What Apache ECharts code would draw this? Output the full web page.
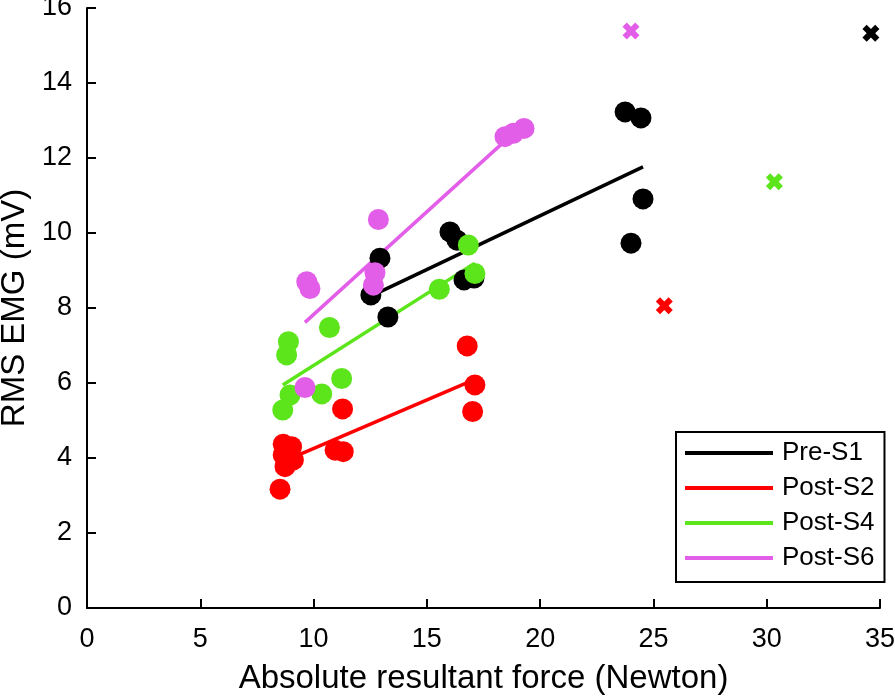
<!DOCTYPE html>
<html>
<head>
<meta charset="utf-8">
<script src="https://cdn.jsdelivr.net/npm/echarts@6/dist/echarts.min.js"></script>
<style>
html,body{margin:0;padding:0;background:#fff;}
#chart{width:895px;height:697px;}
</style>
</head>
<body>
<div id="chart"></div>
<script>
// ---- Data ----
var groupNames = ['Pre-S1', 'Post-S2', 'Post-S4', 'Post-S6'];
var preS1 = [[12.53,8.35],[12.93,9.33],[13.28,7.76],[16.02,10.03],[16.33,9.81],[16.64,8.75],[17.08,8.80],[23.75,13.23],[24.45,13.07],[24.54,10.91],[24.01,9.73]];
var postS2 = [[8.66,4.37],[9.03,4.30],[8.66,4.08],[9.11,3.95],[8.74,3.77],[8.52,3.17],[10.95,4.21],[11.31,4.17],[11.28,5.31],[16.78,6.99],[17.12,5.95],[17.02,5.24]];
var postS4 = [[10.70,7.48],[8.89,7.10],[8.81,6.75],[11.24,6.12],[8.96,5.68],[10.36,5.71],[8.64,5.28],[15.55,8.50],[17.12,8.92],[16.83,9.68]];
var postS6 = [[9.62,5.88],[9.70,8.70],[9.84,8.52],[12.86,10.36],[12.71,8.94],[12.64,8.61],[18.45,12.57],[18.82,12.66],[19.29,12.79]];
var crossPoints = [[34.6,15.33],[25.48,8.06],[30.34,11.37],[24.01,15.39]];
var xTicks = [0,5,10,15,20,25,30,35];
var yTicks = [0,2,4,6,8,10,12,14,16];

var colors = ['#000000', '#ff0000', '#5ce51b', '#e35ee8'];
var groups = [preS1, postS2, postS4, postS6];

function fitLine(pts) {
  var n = pts.length, sx = 0, sy = 0;
  pts.forEach(function(p){ sx += p[0]; sy += p[1]; });
  var mx = sx / n, my = sy / n, sxy = 0, sxx = 0;
  pts.forEach(function(p){ sxy += (p[0]-mx)*(p[1]-my); sxx += (p[0]-mx)*(p[0]-mx); });
  var b = sxy / sxx, a = my - b * mx;
  var xs = pts.map(function(p){ return p[0]; });
  var x0 = Math.min.apply(null, xs), x1 = Math.max.apply(null, xs);
  return [[x0, a + b * x0], [x1, a + b * x1]];
}

var crossPath = 'path://M2.5,0 L5,2.5 L7.5,0 L10,2.5 L7.5,5 L10,7.5 L7.5,10 L5,7.5 L2.5,10 L0,7.5 L2.5,5 L0,2.5 Z';
var FONT = '"Liberation Sans", Arial, Helvetica, sans-serif';

var series = [];
groups.forEach(function(g, i){
  series.push({
    type: 'scatter', name: groupNames[i] + ' pts', data: g,
    symbol: 'circle', symbolSize: 21,
    itemStyle: { color: colors[i], opacity: 1 },
    emphasis: { disabled: true }, silent: true, z: 2
  });
  series.push({
    type: 'line', name: groupNames[i], data: fitLine(g),
    symbol: 'none', lineStyle: { color: colors[i], width: 3.5 },
    itemStyle: { color: colors[i] },
    emphasis: { disabled: true }, silent: true, z: 2
  });
});
crossPoints.forEach(function(p, i){
  series.push({
    type: 'scatter', name: groupNames[i] + ' x', data: [p],
    symbol: crossPath, symbolSize: 17,
    itemStyle: { color: colors[i], opacity: 1 },
    emphasis: { disabled: true }, silent: true, z: 3
  });
});

var chart = echarts.init(document.getElementById('chart'), null, { renderer: 'canvas' });
chart.setOption({
  animation: false,
  backgroundColor: '#ffffff',
  grid: { left: 87, right: 15, top: 8, bottom: 89, containLabel: false, outerBoundsMode: 'none' },
  xAxis: {
    type: 'value', min: xTicks[0], max: xTicks[xTicks.length-1], interval: 5,
    name: 'Absolute resultant force (Newton)', nameLocation: 'middle', nameGap: 54,
    nameTextStyle: { fontFamily: FONT, fontSize: 33, color: '#000' },
    axisLine: { show: true, onZero: false, lineStyle: { color: '#000', width: 2 } },
    axisTick: { show: true, inside: true, length: 9, lineStyle: { color: '#000', width: 2 } },
    axisLabel: { fontFamily: FONT, fontSize: 27, color: '#000', margin: 18 },
    splitLine: { show: false }
  },
  yAxis: {
    type: 'value', min: yTicks[0], max: yTicks[yTicks.length-1], interval: 2,
    name: 'RMS EMG (mV)', nameLocation: 'middle', nameGap: 52,
    nameTextStyle: { fontFamily: FONT, fontSize: 33, color: '#000' },
    axisLine: { show: true, onZero: false, lineStyle: { color: '#000', width: 2 } },
    axisTick: { show: true, inside: true, length: 9, lineStyle: { color: '#000', width: 2 } },
    axisLabel: { fontFamily: FONT, fontSize: 27, color: '#000', margin: 15 },
    splitLine: { show: false }
  },
  legend: {
    data: groupNames,
    orient: 'vertical',
    left: 676, top: 432,
    padding: [8, 10, 11, 9],
    itemGap: 9,
    itemWidth: 88, itemHeight: 4,
    icon: 'rect',
    borderColor: '#000', borderWidth: 2,
    backgroundColor: '#fff',
    textStyle: { fontFamily: FONT, fontSize: 26, color: '#000', lineHeight: 26, padding: [0,0,0,4] },
    selectedMode: false
  },
  series: series
});
</script>
</body>
</html>
